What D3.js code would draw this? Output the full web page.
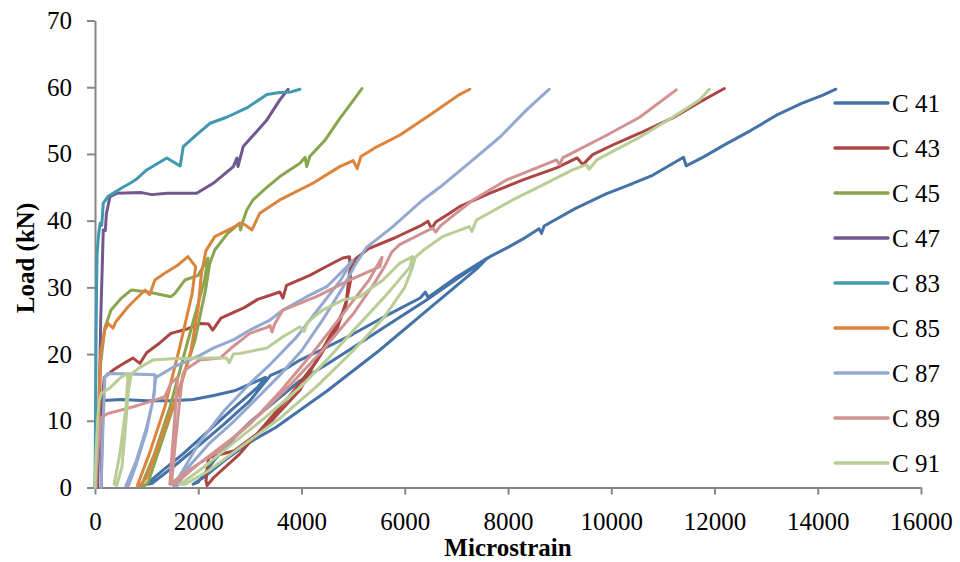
<!DOCTYPE html>
<html>
<head>
<meta charset="utf-8">
<script src="https://cdn.jsdelivr.net/npm/d3@7"></script>
<style>
  body { margin: 0; background: #fff; }
  text { font-family: "Liberation Serif", "Times New Roman", serif; fill: #000; }
</style>
</head>
<body>
<svg id="chart" width="960" height="562"></svg>
<script>
// load (kN) against microstrain, one array of [strain, load] per specimen
var c41 = [[0,0],[30,5],[60,10],[100,13],[500,13.2],[1000,13],[1500,13],[1900,13.2],[2300,13.8],[2700,14.5],[3000,15.5],[3300,16.5],
  [3150,15],[2700,12],[2200,8.5],[1700,5],[1300,2.5],[1000,0.5],
  [1100,0.6],[1500,3],[2000,6.2],[2500,9.5],[3000,13],[3400,16.8],[3700,17.8],[3970,19.1],[4350,20.5],[5000,23],[5700,26],[6300,28.4],[6400,29.3],[6450,28.5],[7000,31.5],[7600,34.4],
  [7400,32.8],[6500,27],[5500,20.5],[4500,14.5],[3500,9],[3000,6.8],[2500,4],[2100,1.5],[1900,0.5],
  [2000,0.8],[2300,4],[2700,7.5],[3000,9.8],[3500,13],[3970,16],[4500,18.5],[5000,21],[5700,24.5],[6400,28],[7000,31.2],[7650,34.6],
  [8000,36],[8300,37.3],[8600,38.8],[8650,38.1],[8700,39.2],[9300,41.8],[9900,44],[10300,45.2],[10800,46.8],[11400,49.5],[11450,48.2],[11800,49.6],[12200,51.4],[12700,53.5],[13200,55.8],[13700,57.6],[14100,58.8],[14350,59.7]];

var c43 = [[120,0],[135,8],[150,14],[180,16.5],[350,17.6],[600,18.8],[735,19.4],[870,18.6],[1000,20.2],[1260,21.7],[1470,23.1],[1800,23.8],[2050,24.6],[2200,24.5],[2280,23.6],[2440,25.4],[2900,27],[3150,28.2],[3580,29.3],[3640,28.4],[3710,30.3],[4160,31.8],[4500,33.2],[4800,34.4],[4930,34.6],
  [4950,31],[4850,27],[4500,22],[3970,14.6],[3300,9],[2700,5.5],[2200,4.5],[2150,1],[2170,0.3],
  [2300,1.5],[2800,5],[3300,9.5],[3800,14],[4300,19],[4700,24],[4870,28],[4930,32.3],[5050,34.3],[5300,35.8],[5800,37.4],[6300,39.2],[6450,39.9],[6520,38.8],[6600,39.8],[6870,41.1],[7060,42.1],[7640,44.1],[8290,46.1],[8940,47.9],[9340,49.4],[9450,48.4],[9640,49.9],[10100,51.6],[10550,53.1],[11190,55.4],[11700,57.7],[12190,59.8]];

var c45 = [[30,0],[70,8],[100,18],[190,23.9],[310,26.6],[500,28.3],[700,29.6],[1030,29.3],[1470,28.6],[1550,29.1],[1740,31.1],[2000,31.8],[2190,34.4],
  [2120,31],[1800,22],[1450,12],[1150,5],[900,0.3],
  [950,0.2],[1030,0.8],[1300,7],[1600,14],[1935,22],[2150,30],[2220,33.5],[2320,35.6],[2570,38.1],[2800,39.6],[2820,38.6],[2860,39.8],[2940,41.6],[3060,43.1],[3300,44.8],[3580,46.6],[3970,48.6],[4070,49.5],[4100,48.1],[4160,49.6],[4450,52],[4740,55.3],[5000,58],[5170,59.8]];

var c47 = [[50,0],[70,6],[90,15],[110,25],[140,33],[160,38.6],[200,38.5],[220,41],[290,43.6],[420,44.1],[900,44.2],[1100,43.9],[1400,44.1],[1970,44.1],[2290,45.6],[2680,48.1],[2750,49.4],[2770,48.1],[2870,51.1],[3330,55.1],[3580,58.1],[3740,59.7]];

var c83 = [[0,0],[10,10],[20,22],[30,30],[40,35],[70,38],[100,39.6],[130,39.3],[160,42.6],[250,43.6],[390,44.3],[540,45],[680,45.6],[800,46.2],[1000,47.6],[1390,49.4],[1650,48.2],[1710,51.1],[1970,52.9],[2230,54.6],[2550,55.5],[2940,56.9],[3330,58.9],[3580,59.2],[3800,59.3],[3970,59.7]];

var c85 = [[20,0],[50,8],[80,14],[100,18.6],[120,20.6],[190,23.6],[250,24.6],[350,23.9],[400,24.8],[640,27.1],[970,29.6],[1060,28.9],[1160,31.1],[1350,32.1],[1600,33.3],[1800,34.6],
  [1950,33.1],[1880,29],[1640,21],[1350,12],[1050,5],[820,0.3],
  [870,0.3],[1000,1.5],[1350,9],[1650,15],[1860,20.6],[2000,27],[2060,32],[2150,35.5],[2320,37.6],[2710,39.1],[2800,39.6],[2900,39.4],[3040,38.6],[3190,41.1],[3580,43.1],[4220,45.6],[4740,48.1],[5000,49],[5080,47.8],[5150,49.6],[5420,50.9],[5900,52.8],[6480,55.8],[7060,58.9],[7260,59.7]];

var c87 = [[120,0],[150,8],[190,16.5],[250,17.1],[700,17],[1160,16.9],
  [1150,14],[1000,9],[800,4],[600,0.3],
  [650,0.3],[800,3.5],[1000,8.5],[1120,13],[1180,16.5],[1510,18],[2030,19.8],[2290,20.9],[2700,22.2],[3000,23.6],[3390,25.1],[3640,26.6],[4100,28.6],[4490,30.1],[4880,33.1],[4990,34.1],
  [4750,31],[4300,26.5],[3900,22.5],[3400,18.5],[3000,15.6],[2500,11.5],[2000,6.5],[1700,2.5],[1520,0.3],
  [1600,0.3],[1800,3],[2200,6.5],[2700,10],[3150,13.5],[3600,17],[4000,20.5],[4400,25],[4800,30],[5050,33.5],[5260,36],[5770,39.1],[6350,43.1],[6680,45],[7320,49.1],[7840,52.5],[8360,56.6],[8800,59.7]];

var c89 = [[0,0],[40,4],[80,8],[120,10.5],[250,11.1],[500,11.6],[830,12.3],[1160,13.1],[1350,13.6],[1470,15.6],[1600,16.5],
  [1560,12],[1500,6],[1450,0.5],
  [1480,0.5],[1560,7],[1640,13],[1700,17],[1740,17.6],[2030,19.1],[2420,19.4],[2670,21.1],[3000,23.1],[3330,24],[3390,24.3],[3430,23.3],[3480,24.5],[3640,26.6],[4290,28.6],[4680,30.1],[4930,31.1],[5520,33.1],[5560,34.5],
  [5300,31],[4800,26],[4200,20],[3600,14.5],[3000,9.5],[2400,5.5],[1800,2.5],[1450,0.5],
  [1550,0.5],[2000,3.5],[2600,7],[3200,11],[3800,15.5],[4400,20.5],[5000,26],[5400,30.5],[5600,33],[5750,35.3],[5900,36.4],[6540,38.9],[6600,38.3],[6700,39.3],[7320,43.1],[7970,46.1],[8940,49.1],[9000,48.4],[9060,49.4],[9910,52.8],[10550,55.5],[11260,59.6]];

var c91 = [[0,0],[20,5],[50,10],[80,13],[120,14.1],[300,15],[500,16.5],[640,17.1],
  [600,12],[480,5],[370,0.5],
  [420,0.3],[520,3],[580,8],[640,14],[700,17],[870,18],[1120,19.1],[1500,19.3],[2030,19.4],[2550,19.4],[2600,18.7],[2680,20],[2800,20.1],[3330,20.9],[3640,22.6],[3970,24.1],[4050,23.4],[4120,24.8],[4410,26.6],[4800,28.1],[5130,28.6],[5300,29.6],[5580,31.1],[5900,33.6],[6150,34.6],
  [6100,33],[5600,28.5],[5000,23.5],[4500,19.2],[3970,15],[3300,10.5],[2700,6.8],[2100,3],[1650,0.5],
  [1750,0.5],[2200,2.5],[2900,6.5],[3600,10.5],[4300,15.2],[5000,20.5],[5600,25.5],[6000,30],[6150,33],[6200,34.5],[6400,35.8],[6730,37.6],[7250,39.1],[7300,38.4],[7390,40.1],[8090,43.1],[8610,45.1],[9250,47.6],[9520,48.4],[9570,47.7],[9720,49.1],[10550,52.5],[11190,55.5],[11710,58.1],[11900,59.7]];

var seriesNames = ['C 41', 'C 43', 'C 45', 'C 47', 'C 83', 'C 85', 'C 87', 'C 89', 'C 91'];
var seriesData = [c41, c43, c45, c47, c83, c85, c87, c89, c91];
var colors = ['#4572A7', '#AA4643', '#89A54E', '#71588F', '#4198AF', '#DB843D', '#93A9CF', '#D19392', '#B9CD96'];
var xTicks = [0, 2000, 4000, 6000, 8000, 10000, 12000, 14000, 16000];
var yTicks = [0, 10, 20, 30, 40, 50, 60, 70];

var svg = d3.select('#chart');
var fontSize = 25;

var x = d3.scaleLinear().domain([0, 16000]).range([95, 921]);
var y = d3.scaleLinear().domain([0, 70]).range([487.5, 20.5]);

var yAxis = d3.axisLeft(y).tickValues(yTicks).tickSize(8).tickSizeOuter(0).tickPadding(15);
var xAxis = d3.axisBottom(x).tickValues(xTicks).tickFormat(d3.format('d'))
    .tickSize(7).tickSizeOuter(0).tickPadding(18);

var styleAxis = function (g) {
  g.selectAll('path, line').attr('stroke', '#868686').attr('stroke-width', 2);
  g.selectAll('text')
      .attr('fill', '#000')
      .style('font-family', '"Liberation Serif", serif')
      .style('font-size', fontSize + 'px');
};

svg.append('g').attr('transform', 'translate(95,0)').call(yAxis).call(styleAxis);
svg.append('g').attr('transform', 'translate(0,487.5)').call(xAxis).call(styleAxis);

var line = d3.line()
    .x(function (d) { return x(d[0]); })
    .y(function (d) { return y(d[1]); });

svg.append('g').selectAll('path.series')
    .data(seriesData)
    .enter().append('path')
    .attr('class', 'series')
    .attr('d', line)
    .attr('fill', 'none')
    .attr('stroke', function (d, i) { return colors[i]; })
    .attr('stroke-width', 3)
    .attr('stroke-linejoin', 'round')
    .attr('stroke-linecap', 'round');

// axis titles
svg.append('text')
    .attr('transform', 'translate(34,258) rotate(-90)')
    .attr('text-anchor', 'middle')
    .style('font-size', fontSize + 'px')
    .style('font-weight', 'bold')
    .text('Load (kN)');

svg.append('text')
    .attr('x', 508)
    .attr('y', 556)
    .attr('text-anchor', 'middle')
    .style('font-size', fontSize + 'px')
    .style('font-weight', 'bold')
    .text('Microstrain');

// legend
var legend = svg.append('g').selectAll('g.item')
    .data(seriesNames)
    .enter().append('g')
    .attr('class', 'item')
    .attr('transform', function (d, i) { return 'translate(835,' + (103 + i * 45) + ')'; });

legend.append('line')
    .attr('x1', 0).attr('x2', 53)
    .attr('y1', 0).attr('y2', 0)
    .attr('stroke', function (d, i) { return colors[i]; })
    .attr('stroke-width', 3.5)
    .attr('stroke-linecap', 'round');

legend.append('text')
    .attr('x', 57)
    .attr('dy', '0.35em')
    .style('font-size', fontSize + 'px')
    .text(function (d) { return d; });
</script>
</body>
</html>
